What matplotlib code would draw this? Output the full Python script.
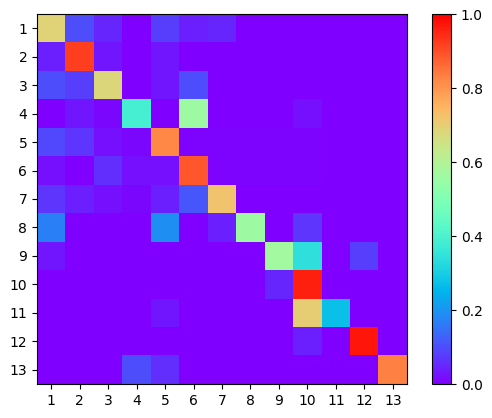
import numpy as np
import matplotlib
matplotlib.use('Agg')
import matplotlib.pyplot as plt

labels = [str(i) for i in range(1, 14)]

# значения матрицы по строкам (доли, примерно по цвету)
row1 = [0.69, 0.10, 0.05, 0.00, 0.08, 0.04, 0.05, 0, 0, 0, 0, 0, 0]
row2 = [0.04, 0.92, 0.03, 0.00, 0.03, 0, 0, 0, 0, 0, 0, 0, 0]
row3 = [0.10, 0.08, 0.68, 0.00, 0.03, 0.10, 0, 0, 0, 0, 0, 0, 0]
row4 = [0.00, 0.03, 0.01, 0.39, 0.00, 0.56, 0, 0, 0, 0.02, 0, 0, 0]
row5 = [0.09, 0.07, 0.02, 0.01, 0.82, 0.005, 0.005, 0.005, 0.005, 0.005, 0, 0, 0]
row6 = [0.02, 0.00, 0.06, 0.02, 0.02, 0.89, 0.005, 0.005, 0.005, 0.005, 0, 0, 0]
row7 = [0.07, 0.04, 0.02, 0.01, 0.04, 0.11, 0.72, 0, 0, 0, 0, 0, 0]
row8 = [0.17, 0.00, 0.00, 0.00, 0.19, 0.00, 0.04, 0.56, 0, 0.07, 0, 0, 0]
row9 = [0.03, 0, 0, 0, 0, 0, 0, 0, 0.57, 0.34, 0, 0.08, 0]
row10 = [0, 0, 0, 0, 0, 0, 0, 0, 0.05, 0.96, 0, 0, 0]
row11 = [0, 0, 0, 0, 0.03, 0, 0, 0, 0, 0.70, 0.27, 0, 0]
row12 = [0, 0, 0, 0, 0, 0, 0, 0, 0, 0.04, 0, 0.97, 0]
row13 = [0, 0, 0, 0.10, 0.06, 0, 0, 0, 0, 0, 0, 0, 0.83]

matrix = np.array([row1, row2, row3, row4, row5, row6, row7,
                   row8, row9, row10, row11, row12, row13])

W, H = 492, 418
fig = plt.figure(figsize=(W / 100, H / 100), dpi=100)
ax = fig.add_axes([37 / W, 34 / H, 370 / W, 370 / H])
cax = fig.add_axes([432 / W, 34 / H, 19 / W, 370 / H])

im = ax.imshow(matrix, cmap='rainbow', vmin=0, vmax=1)
fig.colorbar(im, cax=cax)
ax.set_xticks(range(13), labels)
ax.set_yticks(range(13), labels)

plt.savefig('out.png')
plt.close()
